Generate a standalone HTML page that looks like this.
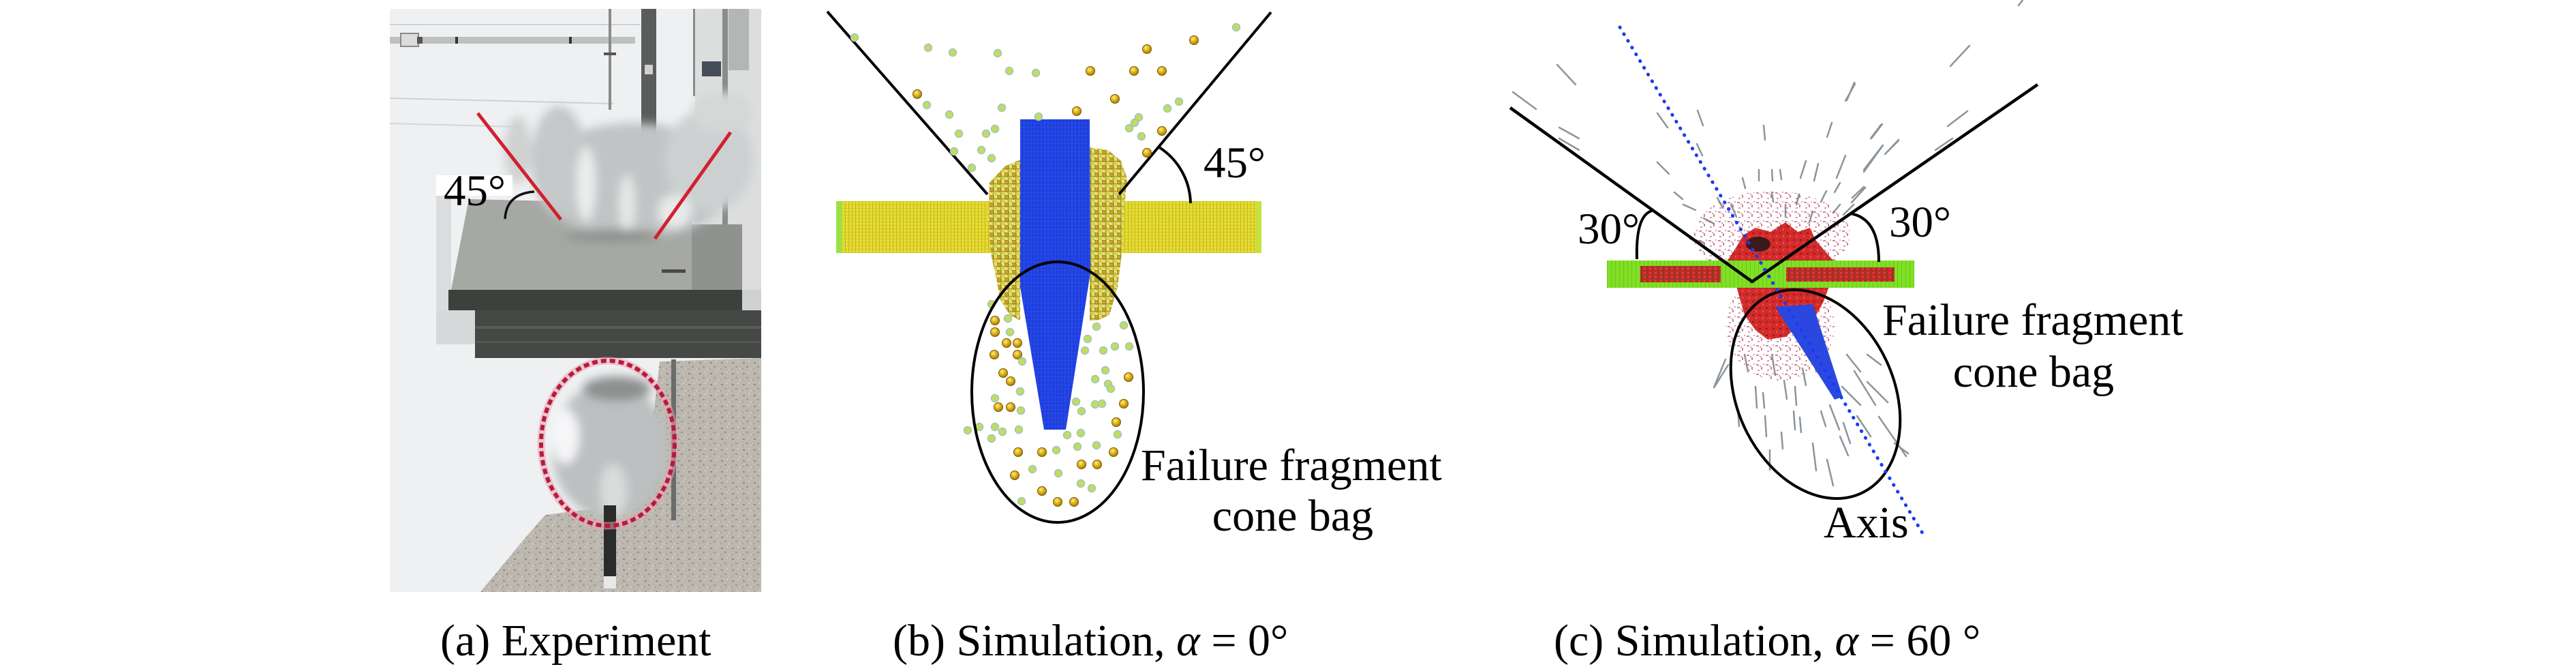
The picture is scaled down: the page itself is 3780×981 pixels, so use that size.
<!DOCTYPE html>
<html>
<head>
<meta charset="utf-8">
<style>
html,body{margin:0;padding:0;background:#fff;}
svg{display:block;}
svg text{font-family:"Liberation Serif","Times New Roman",serif !important;fill:#000;}
</style>
</head>
<body>
<svg width="3780" height="981" viewBox="0 0 3780 981" xmlns="http://www.w3.org/2000/svg">
<defs>
  <clipPath id="photoClip"><rect x="572" y="13" width="545" height="855"/></clipPath>
  <filter id="blur8" x="-50%" y="-50%" width="200%" height="200%"><feGaussianBlur stdDeviation="7"/></filter>
  <pattern id="yellowGrid" width="5" height="5" patternUnits="userSpaceOnUse">
    <rect width="5" height="5" fill="#e6de34"/>
    <rect x="0" y="0" width="1" height="5" fill="#bfb21c"/>
    <rect x="0" y="0" width="5" height="1" fill="#d2c624"/>
  </pattern>
  <pattern id="frag" width="11" height="11" patternUnits="userSpaceOnUse">
    <rect width="11" height="11" fill="#e8e07a"/>
    <circle cx="3" cy="3" r="3.3" fill="#c8a424" stroke="#8a7014" stroke-width="1"/>
    <circle cx="8.5" cy="8.5" r="3.3" fill="#d0d648" stroke="#9a8e24" stroke-width="1"/>
  </pattern>
  <pattern id="blueLines" width="5" height="6" patternUnits="userSpaceOnUse">
    <rect width="5" height="6" fill="#2244e6"/>
    <rect x="0" y="0" width="1" height="6" fill="#1a36c4"/>
    <rect x="0" y="0" width="5" height="1" fill="#2a4cea"/>
  </pattern>
  <pattern id="greenPlate" width="6" height="6" patternUnits="userSpaceOnUse">
    <rect width="6" height="6" fill="#80e024"/>
    <rect x="0" y="0" width="1" height="6" fill="#6cc81c"/>
  </pattern>
  <pattern id="redStripe" width="8" height="6" patternUnits="userSpaceOnUse">
    <rect width="8" height="6" fill="#c62a28"/>
    <rect x="0" y="0" width="2" height="6" fill="#8a3a20"/>
    <rect x="4" y="3" width="3" height="2" fill="#e04040"/>
  </pattern>
  <pattern id="pinkSpeck" width="14" height="14" patternUnits="userSpaceOnUse">
    <rect x="1" y="2" width="4" height="2" fill="#c0406a"/>
    <rect x="8" y="6" width="2" height="4" fill="#d03040"/>
    <rect x="3" y="10" width="3" height="2" fill="#a07090"/>
    <rect x="11" y="1" width="2" height="2" fill="#e06080"/>
    <rect x="6" y="4" width="2" height="2" fill="#8a8a96"/>
  </pattern>
  <pattern id="redSpeck" width="10" height="10" patternUnits="userSpaceOnUse">
    <rect width="10" height="10" fill="#d42a2a"/>
    <rect x="1" y="1" width="3" height="2" fill="#8a2020"/>
    <rect x="6" y="5" width="2" height="3" fill="#e85050"/>
    <rect x="2" y="7" width="2" height="2" fill="#b83838"/>
  </pattern>
  <pattern id="sand" width="16" height="16" patternUnits="userSpaceOnUse">
    <rect width="16" height="16" fill="#bcb8b0"/>
    <rect x="2" y="3" width="3" height="2" fill="#8e8a84"/>
    <rect x="10" y="1" width="2" height="2" fill="#d4d0c8"/>
    <rect x="7" y="9" width="3" height="2" fill="#9a968e"/>
    <rect x="13" y="12" width="2" height="3" fill="#ccc8c0"/>
    <rect x="1" y="12" width="2" height="2" fill="#a4a098"/>
  </pattern>
  <radialGradient id="gold" cx="0.4" cy="0.35" r="0.7">
    <stop offset="0" stop-color="#fff07a"/>
    <stop offset="0.45" stop-color="#e0b420"/>
    <stop offset="1" stop-color="#9a7400"/>
  </radialGradient>
</defs>

<rect x="0" y="0" width="3780" height="981" fill="#ffffff"/>

<!-- ================= PANEL (a) PHOTO ================= -->
<g clip-path="url(#photoClip)">
  <rect x="572" y="13" width="545" height="855" fill="#eef0f2"/>
  <rect x="1020" y="13" width="97" height="440" fill="#dcdede"/>
  <rect x="1060" y="13" width="8" height="440" fill="#8a8c8c"/>
  <rect x="1069" y="13" width="30" height="90" fill="#b4b6b6"/>
  <rect x="1030" y="90" width="28" height="22" fill="#464c58"/>
  <rect x="1017" y="13" width="3" height="128" fill="#8a8a8a"/>
  <line x1="572" y1="36" x2="940" y2="36" stroke="#cfd0d2" stroke-width="2"/>
  <line x1="572" y1="144" x2="900" y2="152" stroke="#cfd0d2" stroke-width="2"/>
  <line x1="572" y1="181" x2="760" y2="186" stroke="#d4d5d7" stroke-width="2"/>
  <rect x="572" y="54" width="360" height="10" fill="#bfc1c1"/>
  <rect x="588" y="49" width="26" height="19" fill="#dcdcdc" stroke="#8a8a8a" stroke-width="2"/>
  <rect x="612" y="54" width="8" height="10" fill="#555"/>
  <rect x="668" y="54" width="4" height="10" fill="#333"/>
  <rect x="835" y="54" width="4" height="10" fill="#333"/>
  <rect x="893" y="13" width="4" height="148" fill="#8a8a8a"/>
  <rect x="886" y="77" width="18" height="4" fill="#555"/>
  <rect x="941" y="13" width="22" height="192" fill="#5a5c5c"/>
  <rect x="946" y="95" width="12" height="14" fill="#d0d0d0"/>
  <rect x="640" y="283" width="22" height="222" fill="#dadcde"/>
  <polygon points="688,292 1015,300 1015,425 662,425" fill="#a6a8a4"/>
  <rect x="1015" y="329" width="74" height="126" fill="#909290"/>
  <rect x="1089" y="300" width="28" height="155" fill="#dcdcdc"/>
  <rect x="971" y="395" width="35" height="5" fill="#4a4a4a"/>
  <g filter="url(#blur8)">
    <ellipse cx="930" cy="265" rx="145" ry="85" fill="#c0c4c4"/>
    <ellipse cx="820" cy="235" rx="40" ry="80" fill="#c4c8c8"/>
    <ellipse cx="1040" cy="235" rx="65" ry="75" fill="#ccd0d0"/>
    <ellipse cx="1060" cy="165" rx="45" ry="30" fill="#d6d8d8"/>
    <ellipse cx="860" cy="270" rx="14" ry="55" fill="#eceeee"/>
    <ellipse cx="920" cy="300" rx="12" ry="45" fill="#e6e8e8"/>
    <ellipse cx="990" cy="310" rx="25" ry="25" fill="#e8eaea"/>
    <ellipse cx="760" cy="220" rx="20" ry="50" fill="#d0d2d2"/>
    <ellipse cx="900" cy="345" rx="70" ry="9" fill="#8e908c"/>
  </g>
  <rect x="658" y="425" width="431" height="32" fill="#3e403e"/>
  <rect x="697" y="455" width="420" height="70" fill="#464846"/>
  <rect x="697" y="478" width="420" height="4" fill="#5a5c5a"/>
  <rect x="697" y="500" width="420" height="3" fill="#545654"/>
  <rect x="1089" y="425" width="28" height="30" fill="#d0d2d2"/>
  <rect x="640" y="455" width="57" height="50" fill="#d6d8da"/>
  <polygon points="705,868 767,793 800,755 880,745 960,600 968,530 1117,525 1117,868" fill="url(#sand)"/>
  <g filter="url(#blur8)">
    <ellipse cx="895" cy="660" rx="85" ry="100" fill="#bcc0c0"/>
    <ellipse cx="830" cy="640" rx="20" ry="40" fill="#f6f6f8"/>
    <ellipse cx="905" cy="570" rx="50" ry="18" fill="#8e9090"/>
    <ellipse cx="900" cy="720" rx="20" ry="40" fill="#dadcdc"/>
  </g>
  <rect x="985" y="527" width="7" height="236" fill="#6a6c6c"/>
  <rect x="886" y="741" width="18" height="106" fill="#2a2c2c"/>
  <rect x="886" y="845" width="18" height="18" fill="#e8e8e8"/>
</g>
<ellipse cx="892" cy="650" rx="98" ry="121" fill="none" stroke="#f0a0b4" stroke-width="11" opacity="0.55"/>
<ellipse cx="892" cy="650" rx="98" ry="121" fill="none" stroke="#b41c3c" stroke-width="6" stroke-dasharray="8 5"/>
<line x1="701" y1="166" x2="823" y2="322" stroke="#d22030" stroke-width="5"/>
<line x1="1072" y1="194" x2="961" y2="350" stroke="#d22030" stroke-width="5"/>
<rect x="640" y="257" width="112" height="30" fill="#ffffff"/>
<text x="651" y="301" font-size="65" font-family="Liberation Serif, serif">45°</text>
<path d="M741,321 Q743,284 784,281" fill="none" stroke="#111" stroke-width="3.5"/>

<!-- ================= PANEL (b) ================= -->
<rect x="1227" y="295" width="624" height="76" fill="url(#yellowGrid)"/>
<rect x="1227" y="295" width="9" height="76" fill="#9ee040"/>
<rect x="1843" y="295" width="8" height="76" fill="#c8e040"/>
<polygon points="1452,268 1474,244 1497,234 1497,470 1482,462 1468,440 1460,400 1454,372 1450,320" fill="url(#frag)"/>
<polygon points="1599,216 1626,220 1645,236 1654,262 1650,300 1646,372 1640,420 1628,462 1610,470 1599,470" fill="url(#frag)"/>
<polygon points="1497,175 1599,175 1600,400 1564,630 1532,630 1497,421" fill="url(#blueLines)"/>
<line x1="1214" y1="17" x2="1449" y2="285" stroke="#000" stroke-width="4"/>
<line x1="1642" y1="285" x2="1865" y2="18" stroke="#000" stroke-width="4"/>
<path d="M1701,216 A100,100 0 0 1 1747,298" fill="none" stroke="#000" stroke-width="4"/>
<g fill="url(#gold)" stroke="#7a5a00" stroke-width="1">
  <circle cx="1752" cy="59" r="6.5"/><circle cx="1683" cy="72" r="6.5"/><circle cx="1600" cy="104" r="6.5"/>
  <circle cx="1664" cy="104" r="6.5"/><circle cx="1705" cy="104" r="6.5"/><circle cx="1346" cy="138" r="6.5"/>
  <circle cx="1636" cy="145" r="6.5"/><circle cx="1580" cy="163" r="6.5"/><circle cx="1705" cy="192" r="6.5"/>
  <circle cx="1683" cy="224" r="6.5"/>
  <circle cx="1460" cy="470" r="6.5"/><circle cx="1460" cy="487" r="6.5"/><circle cx="1477" cy="503" r="6.5"/>
  <circle cx="1493" cy="503" r="6.5"/><circle cx="1459" cy="520" r="6.5"/><circle cx="1493" cy="520" r="6.5"/>
  <circle cx="1472" cy="547" r="6.5"/><circle cx="1483" cy="559" r="6.5"/><circle cx="1465" cy="597" r="6.5"/>
  <circle cx="1483" cy="597" r="6.5"/><circle cx="1656" cy="553" r="6.5"/><circle cx="1649" cy="592" r="6.5"/>
  <circle cx="1638" cy="619" r="6.5"/><circle cx="1494" cy="663" r="6.5"/><circle cx="1529" cy="663" r="6.5"/>
  <circle cx="1634" cy="663" r="6.5"/><circle cx="1587" cy="681" r="6.5"/><circle cx="1610" cy="681" r="6.5"/>
  <circle cx="1489" cy="697" r="6.5"/><circle cx="1529" cy="720" r="6.5"/><circle cx="1552" cy="736" r="6.5"/>
  <circle cx="1576" cy="736" r="6.5"/>
</g>
<g fill="#c4dc5c" stroke="#9cc4cc" stroke-width="1.5">
  <circle cx="1254" cy="55" r="5.5"/><circle cx="1814" cy="40" r="5.5"/><circle cx="1362" cy="70" r="5.5"/>
  <circle cx="1398" cy="77" r="5.5"/><circle cx="1464" cy="78" r="5.5"/><circle cx="1481" cy="104" r="5.5"/>
  <circle cx="1520" cy="107" r="5.5"/><circle cx="1360" cy="154" r="5.5"/><circle cx="1470" cy="158" r="5.5"/>
  <circle cx="1393" cy="168" r="5.5"/><circle cx="1407" cy="196" r="5.5"/><circle cx="1447" cy="196" r="5.5"/>
  <circle cx="1460" cy="189" r="5.5"/><circle cx="1400" cy="222" r="5.5"/><circle cx="1440" cy="220" r="5.5"/>
  <circle cx="1455" cy="232" r="5.5"/><circle cx="1426" cy="246" r="5.5"/><circle cx="1524" cy="171" r="5.5"/>
  <circle cx="1730" cy="149" r="5.5"/><circle cx="1713" cy="159" r="5.5"/><circle cx="1671" cy="172" r="5.5"/>
  <circle cx="1657" cy="188" r="5.5"/><circle cx="1665" cy="180" r="5.5"/><circle cx="1675" cy="200" r="5.5"/>
  <circle cx="1420" cy="631" r="5.5"/><circle cx="1437" cy="626" r="5.5"/><circle cx="1455" cy="643" r="5.5"/>
  <circle cx="1460" cy="626" r="5.5"/><circle cx="1471" cy="633" r="5.5"/><circle cx="1495" cy="630" r="5.5"/>
  <circle cx="1497" cy="574" r="5.5"/><circle cx="1460" cy="584" r="5.5"/><circle cx="1498" cy="602" r="5.5"/>
  <circle cx="1579" cy="589" r="5.5"/><circle cx="1587" cy="603" r="5.5"/><circle cx="1607" cy="593" r="5.5"/>
  <circle cx="1617" cy="592" r="5.5"/><circle cx="1622" cy="543" r="5.5"/><circle cx="1607" cy="556" r="5.5"/>
  <circle cx="1626" cy="563" r="5.5"/><circle cx="1630" cy="570" r="5.5"/><circle cx="1649" cy="477" r="5.5"/>
  <circle cx="1657" cy="508" r="5.5"/><circle cx="1636" cy="508" r="5.5"/><circle cx="1619" cy="514" r="5.5"/>
  <circle cx="1592" cy="514" r="5.5"/><circle cx="1596" cy="497" r="5.5"/><circle cx="1609" cy="479" r="5.5"/>
  <circle cx="1566" cy="638" r="5.5"/><circle cx="1586" cy="635" r="5.5"/><circle cx="1609" cy="653" r="5.5"/>
  <circle cx="1640" cy="637" r="5.5"/><circle cx="1550" cy="660" r="5.5"/><circle cx="1581" cy="655" r="5.5"/>
  <circle cx="1515" cy="688" r="5.5"/><circle cx="1553" cy="694" r="5.5"/><circle cx="1586" cy="709" r="5.5"/>
  <circle cx="1602" cy="716" r="5.5"/><circle cx="1499" cy="735" r="5.5"/><circle cx="1455" cy="446" r="5.5"/>
  <circle cx="1479" cy="467" r="5.5"/><circle cx="1482" cy="487" r="5.5"/><circle cx="1500" cy="530" r="5.5"/>
</g>
<ellipse cx="1552" cy="575" rx="126" ry="191" fill="none" stroke="#000" stroke-width="4"/>
<text x="1766" y="260" font-size="65" font-family="Liberation Serif, serif">45°</text>
<text x="1674" y="704" font-size="66" font-family="Liberation Serif, serif">Failure fragment</text>
<text x="1897" y="778" font-size="66" text-anchor="middle" font-family="Liberation Serif, serif">cone bag</text>

<!-- ================= PANEL (c) ================= -->
<path stroke="#8c949c" stroke-width="2.5" stroke-linecap="round" fill="none" d="
M2285,95L2312,124 M2220,135L2254,160 M2288,187L2317,203 M2288,203L2317,220 M2432,166L2447,187
M2491,162L2499,184 M2588,184L2590,205 M2721,121L2710,147 M2688,180L2681,201 M2762,182L2746,203
M2786,205L2768,224 M2762,214L2735,249 M2490,211L2498,228 M2432,238L2449,255 M2457,282L2469,292
M2581,249L2581,265 M2600,249L2601,265 M2612,249L2614,263 M2650,236L2642,261 M2668,240L2662,265
M2708,228L2695,261 M2735,274L2718,290 M2557,261L2561,276 M2890,67L2862,97 M2722,123L2708,148
M2887,163L2858,185 M2865,203L2840,220 M2760,183L2745,203 M2786,206L2766,226 M2763,213L2735,252
M2737,275L2717,297 M2968,0L2962,8 M2520,290L2528,305 M2600,282L2602,296 M2640,285L2636,300
M2680,280L2672,296 M2700,300L2690,312 M2500,320L2515,328 M2470,300L2488,308 M2540,300L2548,318
M2620,300L2620,318 M2660,310L2655,326 M2700,268L2692,282 M2720,300L2705,315 M2480,350L2500,356
M2614,634L2616,658 M2597,660L2597,689 M2681,674L2690,712 M2757,611L2797,669 M2721,544L2752,594
M2516,567L2536,535 M2576,567L2578,598 M2587,576L2589,598 M2618,558L2622,585 M2634,567L2636,594
M2632,603L2634,630 M2641,612L2643,634 M2672,603L2679,625 M2685,594L2699,630 M2703,567L2730,594
M2740,560L2770,590 M2660,520L2665,545 M2645,540L2650,565 M2600,520L2605,550 M2560,520L2565,545
M2710,520L2730,545 M2740,520L2760,535 M2780,650L2800,665 M2660,650L2665,690 M2705,620L2715,650
M2550,600L2552,625 M2532,527L2515,568 M2590,610L2592,640 M2700,640L2712,668 M2725,610L2745,640
"/>
<ellipse cx="2600" cy="345" rx="115" ry="65" fill="url(#pinkSpeck)" opacity="0.65"/>
<ellipse cx="2612" cy="478" rx="80" ry="80" fill="url(#pinkSpeck)" opacity="0.65"/>
<path d="M2535,382 L2548,362 L2558,345 L2576,334 L2598,340 L2620,326 L2638,340 L2656,334 L2664,352 L2676,366 L2690,382 Z" fill="url(#redSpeck)"/>
<ellipse cx="2580" cy="358" rx="18" ry="11" fill="#3a1a1a"/>
<path d="M2548,420 L2684,420 L2676,442 L2665,462 L2642,476 L2620,494 L2594,498 L2576,484 L2560,462 Z" fill="url(#redSpeck)"/>
<rect x="2358" y="382" width="451" height="40" fill="url(#greenPlate)"/>
<rect x="2407" y="390" width="118" height="24" fill="url(#redStripe)"/>
<rect x="2621" y="392" width="159" height="21" fill="url(#redStripe)"/>
<polygon points="2605,450 2660,446 2704,582 2692,586" fill="#2a48e0"/>
<polyline points="2216,158 2571,413 2990,124" fill="none" stroke="#000" stroke-width="4.5"/>
<path d="M2424,309 Q2400,316 2402,380" fill="none" stroke="#000" stroke-width="4"/>
<path d="M2715,313 Q2757,320 2757,384" fill="none" stroke="#000" stroke-width="4"/>
<ellipse cx="2664" cy="578" rx="115" ry="160" transform="rotate(-25 2664 578)" fill="none" stroke="#000" stroke-width="4"/>
<line x1="2377" y1="40" x2="2823" y2="785" stroke="#1a3cf0" stroke-width="5" stroke-linecap="round" stroke-dasharray="0.5 11"/>
<text x="2315" y="357" font-size="65" font-family="Liberation Serif, serif">30°</text>
<text x="2772" y="347" font-size="65" font-family="Liberation Serif, serif">30°</text>
<text x="2762" y="491" font-size="66" font-family="Liberation Serif, serif">Failure fragment</text>
<text x="2984" y="567" font-size="66" text-anchor="middle" font-family="Liberation Serif, serif">cone bag</text>
<text x="2676" y="788" font-size="66" font-family="Liberation Serif, serif">Axis</text>

<!-- ================= CAPTIONS ================= -->
<text x="646" y="961" font-size="66" font-family="Liberation Serif, serif">(a) Experiment</text>
<text x="1310" y="961" font-size="66" font-family="Liberation Serif, serif">(b) Simulation, <tspan font-style="italic">α</tspan> = 0°</text>
<text x="2280" y="961" font-size="66" font-family="Liberation Serif, serif">(c) Simulation, <tspan font-style="italic">α</tspan> = 60 °</text>
</svg>
</body>
</html>
